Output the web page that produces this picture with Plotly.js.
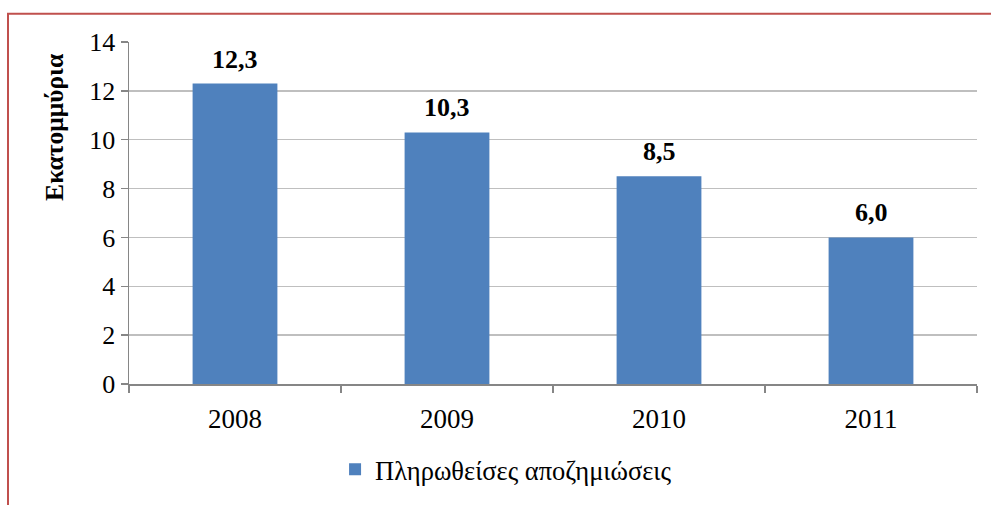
<!DOCTYPE html>
<html>
<head>
<meta charset="utf-8">
<script src="https://cdn.plot.ly/plotly-3.0.1.min.js"></script>
<style>
html,body{margin:0;padding:0;background:#fff;}
#chart{width:991px;height:505px;}
</style>
</head>
<body>
<div id="chart"></div>
<script>
const years = ['2008', '2009', '2010', '2011'];
const payments = [12.3, 10.3, 8.5, 6.0];
const seriesName = 'Πληρωθείσες αποζημιώσεις';
const yTitle = 'Εκατομμύρια';
const yTicks = [0, 2, 4, 6, 8, 10, 12, 14];

const FONT = 'Liberation Serif';

const trace = {
  type: 'bar',
  x: years,
  y: payments,
  name: seriesName,
  marker: {color: '#4F81BD', line: {width: 0}},
  showlegend: true,
  hoverinfo: 'none'
};

const labelAnns = years.map((yr, i) => ({
  x: i, y: payments[i], xref: 'x', yref: 'y',
  text: '<b>' + payments[i].toFixed(1).replace('.', ',') + '</b>',
  showarrow: false, yanchor: 'bottom', yshift: 8,
  font: {family: FONT, size: 26, color: '#000'}
}));

const layout = {
  width: 991, height: 505,
  margin: {l: 129, r: 14, t: 42, b: 119},
  paper_bgcolor: '#fff', plot_bgcolor: '#fff',
  font: {family: FONT, size: 27, color: '#000'},
  bargap: 0.6,
  xaxis: {
    type: 'category',
    categoryorder: 'array', categoryarray: years,
    range: [-0.5, years.length - 0.5],
    showgrid: false,
    showline: true, linecolor: '#868686', linewidth: 1.5,
    ticks: 'outside', ticklen: 7, tickcolor: '#868686', tickwidth: 1.5,
    tickson: 'boundaries',
    tickangle: 0,
    ticklabelstandoff: 10,
    tickfont: {family: FONT, size: 27, color: '#000'},
    zeroline: false
  },
  yaxis: {
    range: [0, 14],
    tickvals: yTicks,
    ticktext: yTicks.map(String),
    showgrid: true, gridcolor: '#BFBFBF', gridwidth: 1.5,
    showline: true, linecolor: '#868686', linewidth: 1.5,
    ticks: 'outside', ticklen: 7, tickcolor: '#868686', tickwidth: 1.5,
    tickfont: {family: FONT, size: 26, color: '#000'},
    zeroline: false
  },
  showlegend: true,
  legend: {
    orientation: 'h',
    x: 0.243, xanchor: 'left',
    y: -0.25, yanchor: 'middle',
    font: {family: FONT, size: 26.5, color: '#000'},
    bgcolor: 'rgba(0,0,0,0)',
    itemwidth: 30
  },
  annotations: labelAnns.concat([{
    xref: 'paper', yref: 'paper',
    x: -0.088, y: 0.75,
    text: '<b>' + yTitle + '</b>', textangle: -90,
    showarrow: false, xanchor: 'center', yanchor: 'middle',
    font: {family: FONT, size: 25.5, color: '#000'}
  }]),
  shapes: [{
    type: 'rect', xref: 'paper', yref: 'paper',
    x0: (8 - 129) / 848, x1: 1.2,
    y0: -0.5, y1: 1 + (42 - 13.5) / 344,
    line: {color: '#C0504D', width: 2},
    fillcolor: 'rgba(0,0,0,0)', layer: 'below'
  }]
};

Plotly.newPlot('chart', [trace], layout, {displayModeBar: false, staticPlot: true});
</script>
</body>
</html>
